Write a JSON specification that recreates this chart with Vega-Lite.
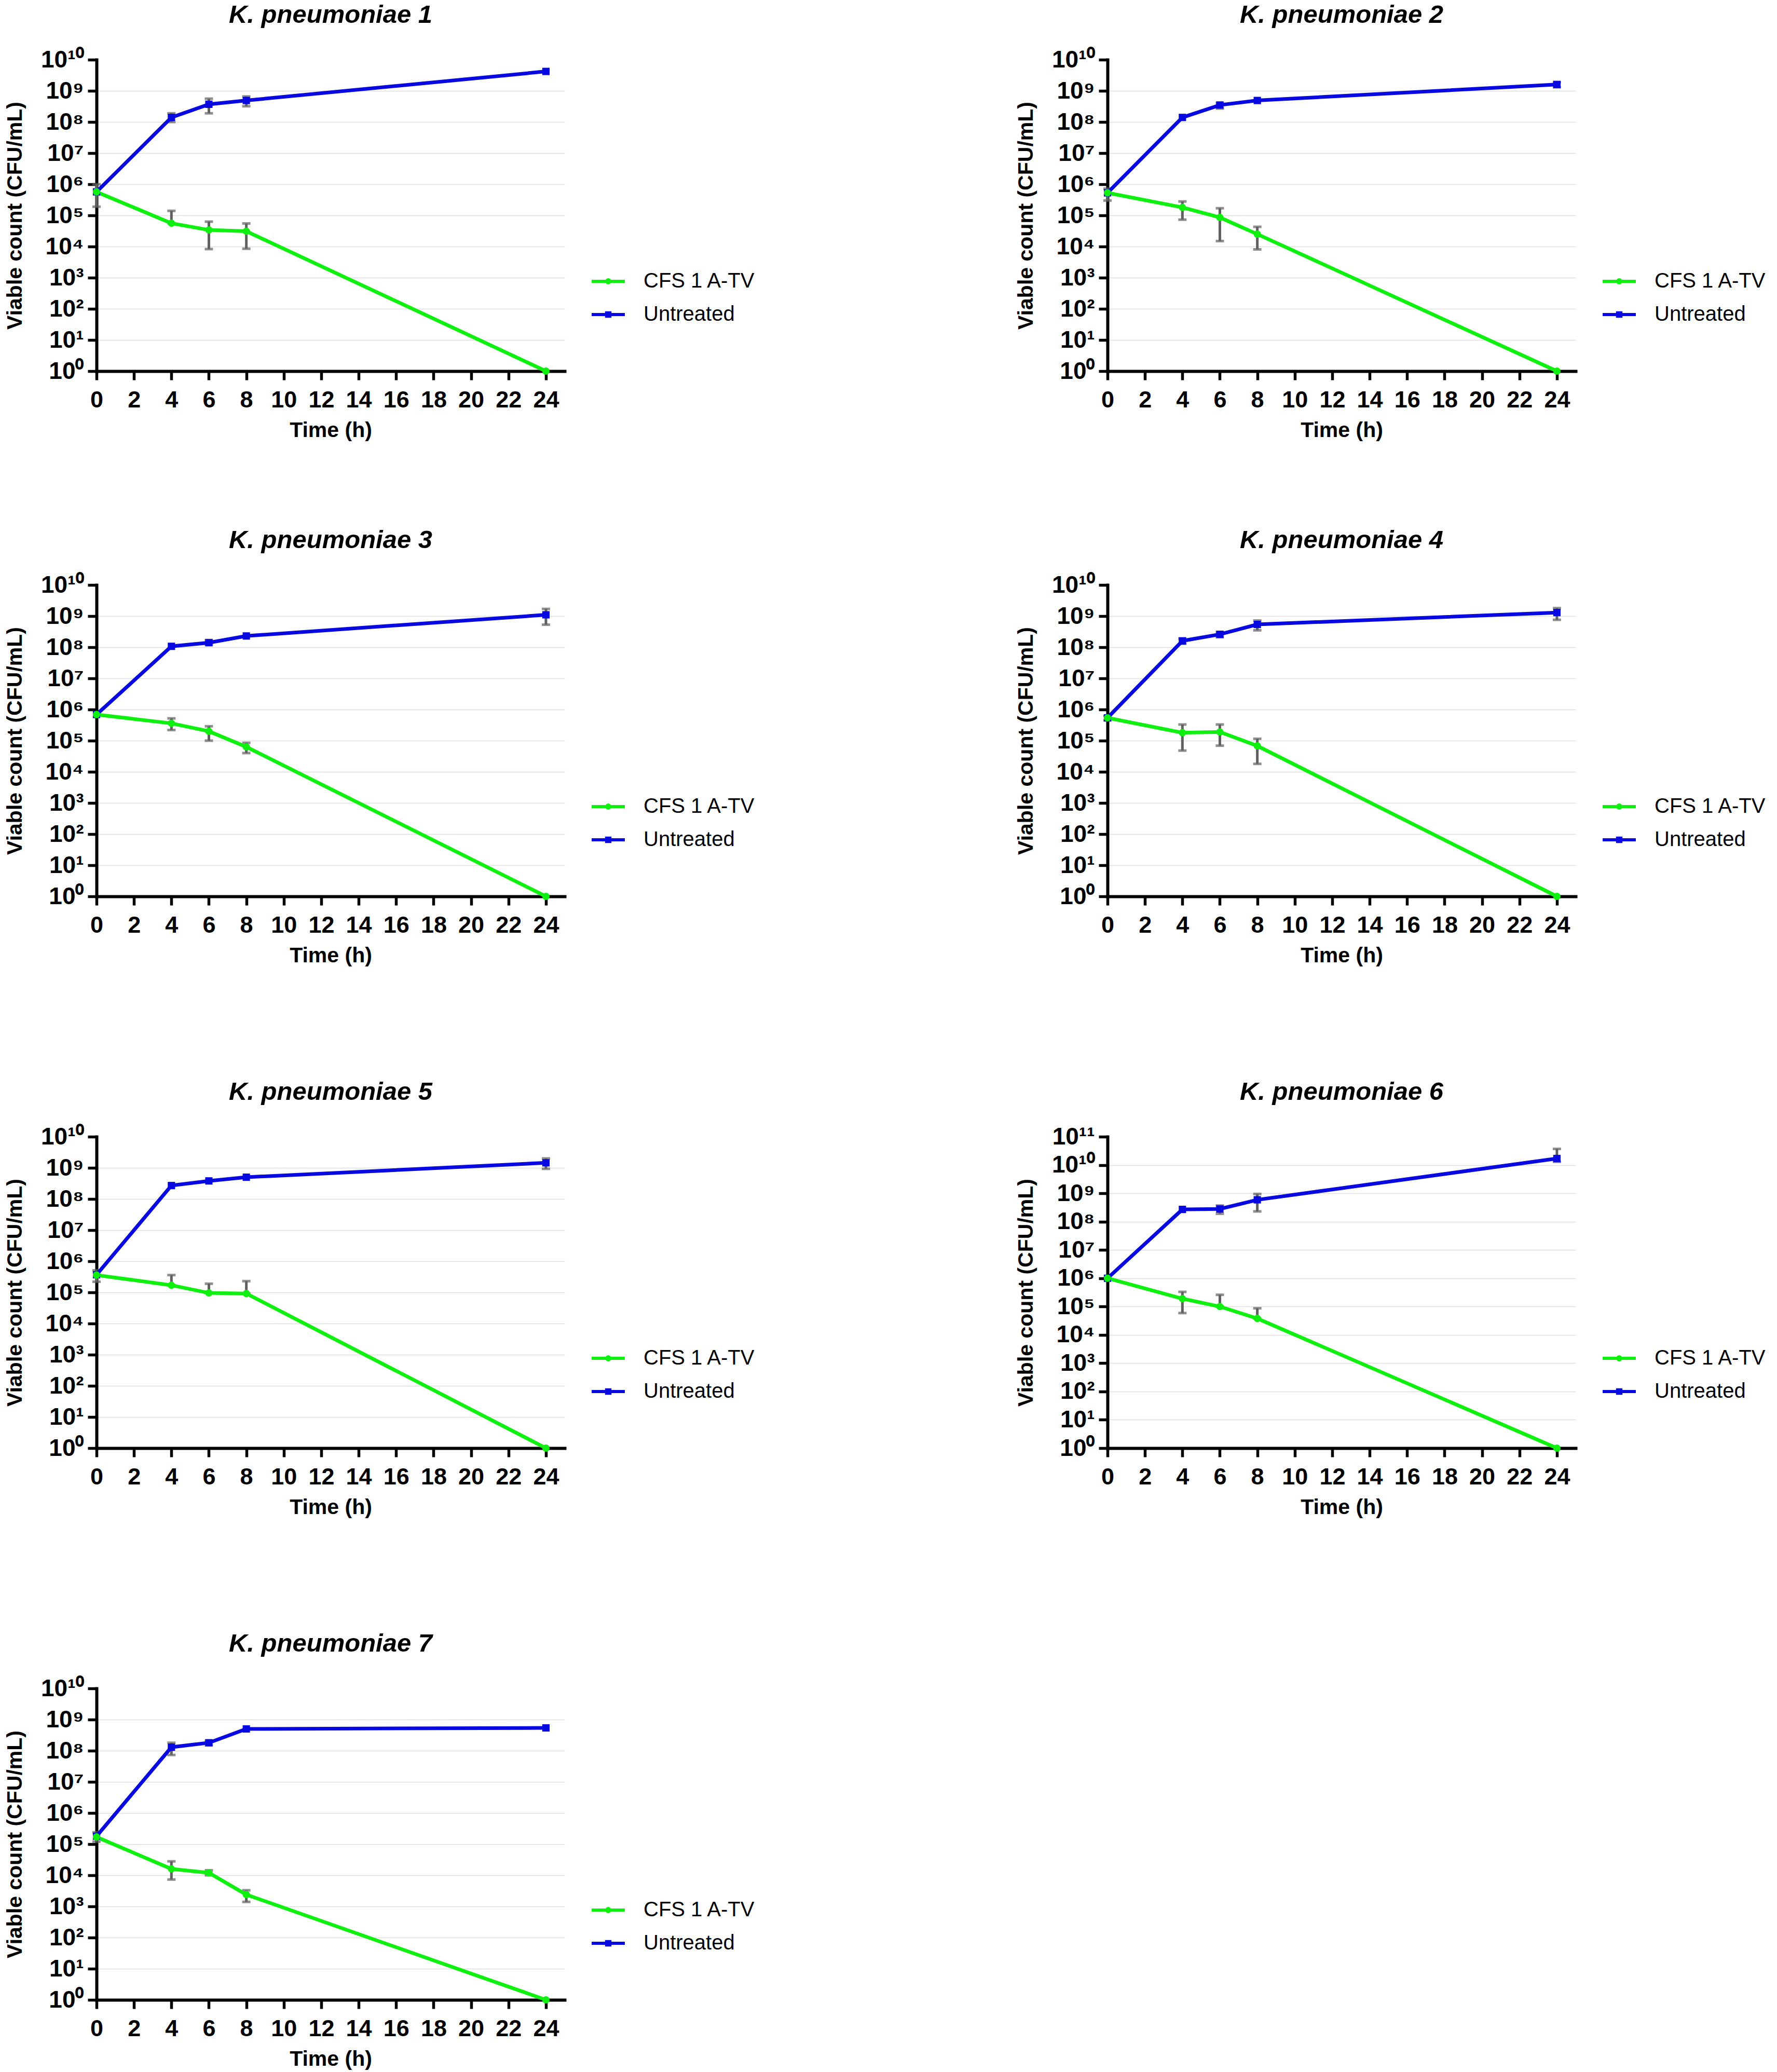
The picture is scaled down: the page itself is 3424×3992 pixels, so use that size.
{
"$schema": "https://vega.github.io/schema/vega-lite/v6.json",
"background": "white",
"padding": {"left": 8, "top": 5, "right": 5, "bottom": 5},
"data": {"values": [
{"p":1,"s":"Untreated","t":0,"v":5.7e5},
{"p":1,"s":"Untreated","t":4,"v":1.4e8,"lo":1.0e8,"hi":1.9e8},
{"p":1,"s":"Untreated","t":6,"v":3.7e8,"lo":1.9e8,"hi":5.6e8},
{"p":1,"s":"Untreated","t":8,"v":4.9e8,"lo":3.2e8,"hi":6.6e8},
{"p":1,"s":"Untreated","t":24,"v":4.2e9},
{"p":1,"s":"CFS 1 A-TV","t":0,"v":5.7e5,"lo":1.9e5,"hi":1.0e6},
{"p":1,"s":"CFS 1 A-TV","t":4,"v":5.6e4,"lo":5.6e4,"hi":1.4e5},
{"p":1,"s":"CFS 1 A-TV","t":6,"v":3.4e4,"lo":8.3e3,"hi":6.3e4},
{"p":1,"s":"CFS 1 A-TV","t":8,"v":3.1e4,"lo":8.5e3,"hi":5.5e4},
{"p":1,"s":"CFS 1 A-TV","t":24,"v":1},
{"p":2,"s":"Untreated","t":0,"v":5.3e5},
{"p":2,"s":"Untreated","t":4,"v":1.4e8},
{"p":2,"s":"Untreated","t":6,"v":3.5e8,"lo":2.7e8,"hi":4.1e8},
{"p":2,"s":"Untreated","t":8,"v":4.9e8},
{"p":2,"s":"Untreated","t":24,"v":1.6e9,"lo":1.3e9,"hi":1.9e9},
{"p":2,"s":"CFS 1 A-TV","t":0,"v":5.3e5,"lo":3.0e5,"hi":7.2e5},
{"p":2,"s":"CFS 1 A-TV","t":4,"v":1.8e5,"lo":7.3e4,"hi":2.8e5},
{"p":2,"s":"CFS 1 A-TV","t":6,"v":8.6e4,"lo":1.5e4,"hi":1.7e5},
{"p":2,"s":"CFS 1 A-TV","t":8,"v":2.5e4,"lo":8.1e3,"hi":4.3e4},
{"p":2,"s":"CFS 1 A-TV","t":24,"v":1},
{"p":3,"s":"Untreated","t":0,"v":6.9e5},
{"p":3,"s":"Untreated","t":4,"v":1.07e8},
{"p":3,"s":"Untreated","t":6,"v":1.4e8,"lo":1.2e8,"hi":1.7e8},
{"p":3,"s":"Untreated","t":8,"v":2.3e8},
{"p":3,"s":"Untreated","t":24,"v":1.1e9,"lo":5.3e8,"hi":1.7e9},
{"p":3,"s":"CFS 1 A-TV","t":0,"v":6.9e5},
{"p":3,"s":"CFS 1 A-TV","t":4,"v":3.6e5,"lo":2.2e5,"hi":5.2e5},
{"p":3,"s":"CFS 1 A-TV","t":6,"v":2.0e5,"lo":1.0e5,"hi":2.9e5},
{"p":3,"s":"CFS 1 A-TV","t":8,"v":6.3e4,"lo":4.0e4,"hi":8.5e4},
{"p":3,"s":"CFS 1 A-TV","t":24,"v":1},
{"p":4,"s":"Untreated","t":0,"v":5.4e5},
{"p":4,"s":"Untreated","t":4,"v":1.6e8,"lo":1.3e8,"hi":1.9e8},
{"p":4,"s":"Untreated","t":6,"v":2.6e8,"lo":2.1e8,"hi":3.1e8},
{"p":4,"s":"Untreated","t":8,"v":5.4e8,"lo":3.5e8,"hi":7.2e8},
{"p":4,"s":"Untreated","t":24,"v":1.3e9,"lo":7.6e8,"hi":1.8e9},
{"p":4,"s":"CFS 1 A-TV","t":0,"v":5.4e5,"lo":4.5e5,"hi":6.2e5},
{"p":4,"s":"CFS 1 A-TV","t":4,"v":1.8e5,"lo":4.8e4,"hi":3.3e5},
{"p":4,"s":"CFS 1 A-TV","t":6,"v":1.9e5,"lo":6.9e4,"hi":3.3e5},
{"p":4,"s":"CFS 1 A-TV","t":8,"v":6.8e4,"lo":1.8e4,"hi":1.15e5},
{"p":4,"s":"CFS 1 A-TV","t":24,"v":1},
{"p":5,"s":"Untreated","t":0,"v":3.7e5},
{"p":5,"s":"Untreated","t":4,"v":2.7e8},
{"p":5,"s":"Untreated","t":6,"v":3.8e8},
{"p":5,"s":"Untreated","t":8,"v":5.0e8},
{"p":5,"s":"Untreated","t":24,"v":1.45e9,"lo":9.3e8,"hi":2.0e9},
{"p":5,"s":"CFS 1 A-TV","t":0,"v":3.6e5,"lo":2.2e5,"hi":5.1e5},
{"p":5,"s":"CFS 1 A-TV","t":4,"v":1.7e5,"lo":1.7e5,"hi":3.6e5},
{"p":5,"s":"CFS 1 A-TV","t":6,"v":9.6e4,"lo":9.6e4,"hi":1.9e5},
{"p":5,"s":"CFS 1 A-TV","t":8,"v":9.2e4,"lo":9.2e4,"hi":2.3e5},
{"p":5,"s":"CFS 1 A-TV","t":24,"v":1},
{"p":6,"s":"Untreated","t":0,"v":1.0e6},
{"p":6,"s":"Untreated","t":4,"v":2.7e8},
{"p":6,"s":"Untreated","t":6,"v":2.8e8,"lo":1.9e8,"hi":3.7e8},
{"p":6,"s":"Untreated","t":8,"v":5.9e8,"lo":2.3e8,"hi":9.5e8},
{"p":6,"s":"Untreated","t":24,"v":1.7e10,"lo":1.3e10,"hi":3.7e10},
{"p":6,"s":"CFS 1 A-TV","t":0,"v":1.0e6},
{"p":6,"s":"CFS 1 A-TV","t":4,"v":1.9e5,"lo":5.9e4,"hi":3.3e5},
{"p":6,"s":"CFS 1 A-TV","t":6,"v":1.0e5,"lo":1.0e5,"hi":2.6e5},
{"p":6,"s":"CFS 1 A-TV","t":8,"v":3.8e4,"lo":3.8e4,"hi":8.7e4},
{"p":6,"s":"CFS 1 A-TV","t":24,"v":1},
{"p":7,"s":"Untreated","t":0,"v":1.8e5,"lo":1.2e5,"hi":2.4e5},
{"p":7,"s":"Untreated","t":4,"v":1.3e8,"lo":7.3e7,"hi":1.8e8},
{"p":7,"s":"Untreated","t":6,"v":1.8e8,"lo":1.5e8,"hi":2.1e8},
{"p":7,"s":"Untreated","t":8,"v":5.0e8},
{"p":7,"s":"Untreated","t":24,"v":5.4e8},
{"p":7,"s":"CFS 1 A-TV","t":0,"v":1.7e5},
{"p":7,"s":"CFS 1 A-TV","t":4,"v":1.6e4,"lo":7.3e3,"hi":2.8e4},
{"p":7,"s":"CFS 1 A-TV","t":6,"v":1.2e4,"lo":1.0e4,"hi":1.45e4},
{"p":7,"s":"CFS 1 A-TV","t":8,"v":2.4e3,"lo":1.4e3,"hi":3.3e3},
{"p":7,"s":"CFS 1 A-TV","t":24,"v":1}
]},
"config": {
  "view": {"stroke": null},
  "font": "Liberation Sans",
  "axis": {"domainColor": "black", "domainWidth": 6, "tickColor": "black", "tickWidth": 5.5, "tickSize": 17, "labelFont": "Liberation Sans", "labelFontWeight": "bold", "labelColor": "black", "titleFont": "Liberation Sans", "titleFontWeight": "bold", "titleFontSize": 41, "titleColor": "black", "grid": false, "domainCap": "square"},
  "axisX": {"labelFontSize": 45, "labelPadding": 16, "titlePadding": 16, "labelFlush": false},
  "axisY": {"labelFontSize": 46, "labelPadding": 8, "titlePadding": 28, "grid": true, "gridColor": "#dedede", "gridWidth": 1.5},
  "legend": {"orient": "none", "legendX": 951, "legendY": 392, "padding": 0, "symbolSize": 4096, "symbolStrokeWidth": 6, "labelFont": "Liberation Sans", "labelFontSize": 40, "labelColor": "black", "labelOffset": 33, "rowPadding": 9, "labelLimit": 0},
  "title": {"font": "Liberation Sans", "fontSize": 49, "fontStyle": "italic", "fontWeight": "bold", "color": "black", "anchor": "middle", "frame": "group", "offset": 38}
},
"vconcat": [
{"hconcat": [
{"width": 902, "height": 600, "title": "K. pneumoniae 1", "transform": [{"filter": "datum.p == 1"}],
 "encoding": {"x": {"field": "t", "type": "quantitative", "scale": {"domain": [0, 25], "nice": false, "zero": false}, "axis": {"values": [0,2,4,6,8,10,12,14,16,18,20,22,24], "title": "Time (h)"}},
   "y": {"field": "v", "type": "quantitative", "scale": {"type": "log", "domain": [1, 1e10], "nice": false}, "axis": {"values": [1,10,100,1000,1e4,1e5,1e6,1e7,1e8,1e9,1e10], "labelExpr": "'10' + ['⁰','¹','²','³','⁴','⁵','⁶','⁷','⁸','⁹','¹⁰','¹¹'][round(log(datum.value)/LN10)]", "gridOpacity": {"condition": {"test": "datum.value <= 1 || datum.value >= 1e10", "value": 0}, "value": 1}, "title": "Viable count (CFU/mL)"}}},
 "layer": [
  {"transform": [{"filter": "isValid(datum.lo)"}], "mark": {"type": "errorbar", "ticks": true, "size": 16, "thickness": 5, "color": "#606060"},
   "encoding": {"y": {"field": "lo", "type": "quantitative", "scale": {"type": "log", "domain": [1, 1e10], "nice": false}, "title": "Viable count (CFU/mL)"}, "y2": {"field": "hi"}}},
  {"mark": {"type": "line", "strokeWidth": 7},
   "encoding": {"color": {"field": "s", "type": "nominal", "scale": {"domain": ["CFS 1 A-TV", "Untreated"], "range": ["#10f010", "#0808e0"]},
     "legend": {"title": null, "encode": {"symbols": {"update": {"shape": {"signal": "datum.value === 'Untreated' ? 'M-1,0L1,0M-0.1,-0.1L0.1,-0.1L0.1,0.1L-0.1,0.1Z' : 'M-1,0L1,0M0.09,0A0.09,0.09,0,1,1,-0.09,0A0.09,0.09,0,1,1,0.09,0Z'"}, "fill": {"signal": "datum.value === 'Untreated' ? '#0808e0' : '#10f010'"}, "stroke": {"signal": "datum.value === 'Untreated' ? '#0808e0' : '#10f010'"}, "strokeWidth": {"value": 6}, "opacity": {"value": 1}}}}}}}},
  {"transform": [{"filter": "datum.s == 'Untreated'"}], "mark": {"type": "point", "filled": true, "shape": "square", "size": 200, "color": "#0808e0", "opacity": 1}},
  {"transform": [{"filter": "datum.s == 'CFS 1 A-TV'"}], "mark": {"type": "point", "filled": true, "shape": "circle", "size": 200, "color": "#10f010", "opacity": 1}}
 ]},
{"width": 902, "height": 600, "title": "K. pneumoniae 2", "transform": [{"filter": "datum.p == 2"}],
 "encoding": {"x": {"field": "t", "type": "quantitative", "scale": {"domain": [0, 25], "nice": false, "zero": false}, "axis": {"values": [0,2,4,6,8,10,12,14,16,18,20,22,24], "title": "Time (h)"}},
   "y": {"field": "v", "type": "quantitative", "scale": {"type": "log", "domain": [1, 1e10], "nice": false}, "axis": {"values": [1,10,100,1000,1e4,1e5,1e6,1e7,1e8,1e9,1e10], "labelExpr": "'10' + ['⁰','¹','²','³','⁴','⁵','⁶','⁷','⁸','⁹','¹⁰','¹¹'][round(log(datum.value)/LN10)]", "gridOpacity": {"condition": {"test": "datum.value <= 1 || datum.value >= 1e10", "value": 0}, "value": 1}, "title": "Viable count (CFU/mL)"}}},
 "layer": [
  {"transform": [{"filter": "isValid(datum.lo)"}], "mark": {"type": "errorbar", "ticks": true, "size": 16, "thickness": 5, "color": "#606060"},
   "encoding": {"y": {"field": "lo", "type": "quantitative", "scale": {"type": "log", "domain": [1, 1e10], "nice": false}, "title": "Viable count (CFU/mL)"}, "y2": {"field": "hi"}}},
  {"mark": {"type": "line", "strokeWidth": 7},
   "encoding": {"color": {"field": "s", "type": "nominal", "scale": {"domain": ["CFS 1 A-TV", "Untreated"], "range": ["#10f010", "#0808e0"]},
     "legend": {"title": null, "encode": {"symbols": {"update": {"shape": {"signal": "datum.value === 'Untreated' ? 'M-1,0L1,0M-0.1,-0.1L0.1,-0.1L0.1,0.1L-0.1,0.1Z' : 'M-1,0L1,0M0.09,0A0.09,0.09,0,1,1,-0.09,0A0.09,0.09,0,1,1,0.09,0Z'"}, "fill": {"signal": "datum.value === 'Untreated' ? '#0808e0' : '#10f010'"}, "stroke": {"signal": "datum.value === 'Untreated' ? '#0808e0' : '#10f010'"}, "strokeWidth": {"value": 6}, "opacity": {"value": 1}}}}}}}},
  {"transform": [{"filter": "datum.s == 'Untreated'"}], "mark": {"type": "point", "filled": true, "shape": "square", "size": 200, "color": "#0808e0", "opacity": 1}},
  {"transform": [{"filter": "datum.s == 'CFS 1 A-TV'"}], "mark": {"type": "point", "filled": true, "shape": "circle", "size": 200, "color": "#10f010", "opacity": 1}}
 ]}
], "spacing": 500, "resolve": {"scale": {"x": "independent", "y": "independent", "color": "independent"}, "legend": {"color": "independent"}}},
{"vconcat": [
{"hconcat": [
{"width": 902, "height": 600, "title": "K. pneumoniae 3", "transform": [{"filter": "datum.p == 3"}],
 "encoding": {"x": {"field": "t", "type": "quantitative", "scale": {"domain": [0, 25], "nice": false, "zero": false}, "axis": {"values": [0,2,4,6,8,10,12,14,16,18,20,22,24], "title": "Time (h)"}},
   "y": {"field": "v", "type": "quantitative", "scale": {"type": "log", "domain": [1, 1e10], "nice": false}, "axis": {"values": [1,10,100,1000,1e4,1e5,1e6,1e7,1e8,1e9,1e10], "labelExpr": "'10' + ['⁰','¹','²','³','⁴','⁵','⁶','⁷','⁸','⁹','¹⁰','¹¹'][round(log(datum.value)/LN10)]", "gridOpacity": {"condition": {"test": "datum.value <= 1 || datum.value >= 1e10", "value": 0}, "value": 1}, "title": "Viable count (CFU/mL)"}}},
 "layer": [
  {"transform": [{"filter": "isValid(datum.lo)"}], "mark": {"type": "errorbar", "ticks": true, "size": 16, "thickness": 5, "color": "#606060"},
   "encoding": {"y": {"field": "lo", "type": "quantitative", "scale": {"type": "log", "domain": [1, 1e10], "nice": false}, "title": "Viable count (CFU/mL)"}, "y2": {"field": "hi"}}},
  {"mark": {"type": "line", "strokeWidth": 7},
   "encoding": {"color": {"field": "s", "type": "nominal", "scale": {"domain": ["CFS 1 A-TV", "Untreated"], "range": ["#10f010", "#0808e0"]},
     "legend": {"title": null, "encode": {"symbols": {"update": {"shape": {"signal": "datum.value === 'Untreated' ? 'M-1,0L1,0M-0.1,-0.1L0.1,-0.1L0.1,0.1L-0.1,0.1Z' : 'M-1,0L1,0M0.09,0A0.09,0.09,0,1,1,-0.09,0A0.09,0.09,0,1,1,0.09,0Z'"}, "fill": {"signal": "datum.value === 'Untreated' ? '#0808e0' : '#10f010'"}, "stroke": {"signal": "datum.value === 'Untreated' ? '#0808e0' : '#10f010'"}, "strokeWidth": {"value": 6}, "opacity": {"value": 1}}}}}}}},
  {"transform": [{"filter": "datum.s == 'Untreated'"}], "mark": {"type": "point", "filled": true, "shape": "square", "size": 200, "color": "#0808e0", "opacity": 1}},
  {"transform": [{"filter": "datum.s == 'CFS 1 A-TV'"}], "mark": {"type": "point", "filled": true, "shape": "circle", "size": 200, "color": "#10f010", "opacity": 1}}
 ]},
{"width": 902, "height": 600, "title": "K. pneumoniae 4", "transform": [{"filter": "datum.p == 4"}],
 "encoding": {"x": {"field": "t", "type": "quantitative", "scale": {"domain": [0, 25], "nice": false, "zero": false}, "axis": {"values": [0,2,4,6,8,10,12,14,16,18,20,22,24], "title": "Time (h)"}},
   "y": {"field": "v", "type": "quantitative", "scale": {"type": "log", "domain": [1, 1e10], "nice": false}, "axis": {"values": [1,10,100,1000,1e4,1e5,1e6,1e7,1e8,1e9,1e10], "labelExpr": "'10' + ['⁰','¹','²','³','⁴','⁵','⁶','⁷','⁸','⁹','¹⁰','¹¹'][round(log(datum.value)/LN10)]", "gridOpacity": {"condition": {"test": "datum.value <= 1 || datum.value >= 1e10", "value": 0}, "value": 1}, "title": "Viable count (CFU/mL)"}}},
 "layer": [
  {"transform": [{"filter": "isValid(datum.lo)"}], "mark": {"type": "errorbar", "ticks": true, "size": 16, "thickness": 5, "color": "#606060"},
   "encoding": {"y": {"field": "lo", "type": "quantitative", "scale": {"type": "log", "domain": [1, 1e10], "nice": false}, "title": "Viable count (CFU/mL)"}, "y2": {"field": "hi"}}},
  {"mark": {"type": "line", "strokeWidth": 7},
   "encoding": {"color": {"field": "s", "type": "nominal", "scale": {"domain": ["CFS 1 A-TV", "Untreated"], "range": ["#10f010", "#0808e0"]},
     "legend": {"title": null, "encode": {"symbols": {"update": {"shape": {"signal": "datum.value === 'Untreated' ? 'M-1,0L1,0M-0.1,-0.1L0.1,-0.1L0.1,0.1L-0.1,0.1Z' : 'M-1,0L1,0M0.09,0A0.09,0.09,0,1,1,-0.09,0A0.09,0.09,0,1,1,0.09,0Z'"}, "fill": {"signal": "datum.value === 'Untreated' ? '#0808e0' : '#10f010'"}, "stroke": {"signal": "datum.value === 'Untreated' ? '#0808e0' : '#10f010'"}, "strokeWidth": {"value": 6}, "opacity": {"value": 1}}}}}}}},
  {"transform": [{"filter": "datum.s == 'Untreated'"}], "mark": {"type": "point", "filled": true, "shape": "square", "size": 200, "color": "#0808e0", "opacity": 1}},
  {"transform": [{"filter": "datum.s == 'CFS 1 A-TV'"}], "mark": {"type": "point", "filled": true, "shape": "circle", "size": 200, "color": "#10f010", "opacity": 1}}
 ]}
], "spacing": 500, "resolve": {"scale": {"x": "independent", "y": "independent", "color": "independent"}, "legend": {"color": "independent"}}},
{"hconcat": [
{"width": 902, "height": 600, "title": "K. pneumoniae 5", "transform": [{"filter": "datum.p == 5"}],
 "encoding": {"x": {"field": "t", "type": "quantitative", "scale": {"domain": [0, 25], "nice": false, "zero": false}, "axis": {"values": [0,2,4,6,8,10,12,14,16,18,20,22,24], "title": "Time (h)"}},
   "y": {"field": "v", "type": "quantitative", "scale": {"type": "log", "domain": [1, 1e10], "nice": false}, "axis": {"values": [1,10,100,1000,1e4,1e5,1e6,1e7,1e8,1e9,1e10], "labelExpr": "'10' + ['⁰','¹','²','³','⁴','⁵','⁶','⁷','⁸','⁹','¹⁰','¹¹'][round(log(datum.value)/LN10)]", "gridOpacity": {"condition": {"test": "datum.value <= 1 || datum.value >= 1e10", "value": 0}, "value": 1}, "title": "Viable count (CFU/mL)"}}},
 "layer": [
  {"transform": [{"filter": "isValid(datum.lo)"}], "mark": {"type": "errorbar", "ticks": true, "size": 16, "thickness": 5, "color": "#606060"},
   "encoding": {"y": {"field": "lo", "type": "quantitative", "scale": {"type": "log", "domain": [1, 1e10], "nice": false}, "title": "Viable count (CFU/mL)"}, "y2": {"field": "hi"}}},
  {"mark": {"type": "line", "strokeWidth": 7},
   "encoding": {"color": {"field": "s", "type": "nominal", "scale": {"domain": ["CFS 1 A-TV", "Untreated"], "range": ["#10f010", "#0808e0"]},
     "legend": {"title": null, "encode": {"symbols": {"update": {"shape": {"signal": "datum.value === 'Untreated' ? 'M-1,0L1,0M-0.1,-0.1L0.1,-0.1L0.1,0.1L-0.1,0.1Z' : 'M-1,0L1,0M0.09,0A0.09,0.09,0,1,1,-0.09,0A0.09,0.09,0,1,1,0.09,0Z'"}, "fill": {"signal": "datum.value === 'Untreated' ? '#0808e0' : '#10f010'"}, "stroke": {"signal": "datum.value === 'Untreated' ? '#0808e0' : '#10f010'"}, "strokeWidth": {"value": 6}, "opacity": {"value": 1}}}}}}}},
  {"transform": [{"filter": "datum.s == 'Untreated'"}], "mark": {"type": "point", "filled": true, "shape": "square", "size": 200, "color": "#0808e0", "opacity": 1}},
  {"transform": [{"filter": "datum.s == 'CFS 1 A-TV'"}], "mark": {"type": "point", "filled": true, "shape": "circle", "size": 200, "color": "#10f010", "opacity": 1}}
 ]},
{"width": 902, "height": 600, "title": "K. pneumoniae 6", "transform": [{"filter": "datum.p == 6"}],
 "encoding": {"x": {"field": "t", "type": "quantitative", "scale": {"domain": [0, 25], "nice": false, "zero": false}, "axis": {"values": [0,2,4,6,8,10,12,14,16,18,20,22,24], "title": "Time (h)"}},
   "y": {"field": "v", "type": "quantitative", "scale": {"type": "log", "domain": [1, 1e11], "nice": false}, "axis": {"values": [1,10,100,1000,1e4,1e5,1e6,1e7,1e8,1e9,1e10,1e11], "labelExpr": "'10' + ['⁰','¹','²','³','⁴','⁵','⁶','⁷','⁸','⁹','¹⁰','¹¹'][round(log(datum.value)/LN10)]", "gridOpacity": {"condition": {"test": "datum.value <= 1 || datum.value >= 1e11", "value": 0}, "value": 1}, "title": "Viable count (CFU/mL)"}}},
 "layer": [
  {"transform": [{"filter": "isValid(datum.lo)"}], "mark": {"type": "errorbar", "ticks": true, "size": 16, "thickness": 5, "color": "#606060"},
   "encoding": {"y": {"field": "lo", "type": "quantitative", "scale": {"type": "log", "domain": [1, 1e11], "nice": false}, "title": "Viable count (CFU/mL)"}, "y2": {"field": "hi"}}},
  {"mark": {"type": "line", "strokeWidth": 7},
   "encoding": {"color": {"field": "s", "type": "nominal", "scale": {"domain": ["CFS 1 A-TV", "Untreated"], "range": ["#10f010", "#0808e0"]},
     "legend": {"title": null, "encode": {"symbols": {"update": {"shape": {"signal": "datum.value === 'Untreated' ? 'M-1,0L1,0M-0.1,-0.1L0.1,-0.1L0.1,0.1L-0.1,0.1Z' : 'M-1,0L1,0M0.09,0A0.09,0.09,0,1,1,-0.09,0A0.09,0.09,0,1,1,0.09,0Z'"}, "fill": {"signal": "datum.value === 'Untreated' ? '#0808e0' : '#10f010'"}, "stroke": {"signal": "datum.value === 'Untreated' ? '#0808e0' : '#10f010'"}, "strokeWidth": {"value": 6}, "opacity": {"value": 1}}}}}}}},
  {"transform": [{"filter": "datum.s == 'Untreated'"}], "mark": {"type": "point", "filled": true, "shape": "square", "size": 200, "color": "#0808e0", "opacity": 1}},
  {"transform": [{"filter": "datum.s == 'CFS 1 A-TV'"}], "mark": {"type": "point", "filled": true, "shape": "circle", "size": 200, "color": "#10f010", "opacity": 1}}
 ]}
], "spacing": 500, "resolve": {"scale": {"x": "independent", "y": "independent", "color": "independent"}, "legend": {"color": "independent"}}},
{"width": 902, "height": 600, "title": "K. pneumoniae 7", "transform": [{"filter": "datum.p == 7"}],
 "encoding": {"x": {"field": "t", "type": "quantitative", "scale": {"domain": [0, 25], "nice": false, "zero": false}, "axis": {"values": [0,2,4,6,8,10,12,14,16,18,20,22,24], "title": "Time (h)"}},
   "y": {"field": "v", "type": "quantitative", "scale": {"type": "log", "domain": [1, 1e10], "nice": false}, "axis": {"values": [1,10,100,1000,1e4,1e5,1e6,1e7,1e8,1e9,1e10], "labelExpr": "'10' + ['⁰','¹','²','³','⁴','⁵','⁶','⁷','⁸','⁹','¹⁰','¹¹'][round(log(datum.value)/LN10)]", "gridOpacity": {"condition": {"test": "datum.value <= 1 || datum.value >= 1e10", "value": 0}, "value": 1}, "title": "Viable count (CFU/mL)"}}},
 "layer": [
  {"transform": [{"filter": "isValid(datum.lo)"}], "mark": {"type": "errorbar", "ticks": true, "size": 16, "thickness": 5, "color": "#606060"},
   "encoding": {"y": {"field": "lo", "type": "quantitative", "scale": {"type": "log", "domain": [1, 1e10], "nice": false}, "title": "Viable count (CFU/mL)"}, "y2": {"field": "hi"}}},
  {"mark": {"type": "line", "strokeWidth": 7},
   "encoding": {"color": {"field": "s", "type": "nominal", "scale": {"domain": ["CFS 1 A-TV", "Untreated"], "range": ["#10f010", "#0808e0"]},
     "legend": {"title": null, "encode": {"symbols": {"update": {"shape": {"signal": "datum.value === 'Untreated' ? 'M-1,0L1,0M-0.1,-0.1L0.1,-0.1L0.1,0.1L-0.1,0.1Z' : 'M-1,0L1,0M0.09,0A0.09,0.09,0,1,1,-0.09,0A0.09,0.09,0,1,1,0.09,0Z'"}, "fill": {"signal": "datum.value === 'Untreated' ? '#0808e0' : '#10f010'"}, "stroke": {"signal": "datum.value === 'Untreated' ? '#0808e0' : '#10f010'"}, "strokeWidth": {"value": 6}, "opacity": {"value": 1}}}}}}}},
  {"transform": [{"filter": "datum.s == 'Untreated'"}], "mark": {"type": "point", "filled": true, "shape": "square", "size": 200, "color": "#0808e0", "opacity": 1}},
  {"transform": [{"filter": "datum.s == 'CFS 1 A-TV'"}], "mark": {"type": "point", "filled": true, "shape": "circle", "size": 200, "color": "#10f010", "opacity": 1}}
 ]}
], "spacing": 219, "resolve": {"scale": {"x": "independent", "y": "independent", "color": "independent"}, "legend": {"color": "independent"}}}
],
"spacing": 168,
"resolve": {"scale": {"x": "independent", "y": "independent", "color": "independent"}, "legend": {"color": "independent"}}
}
